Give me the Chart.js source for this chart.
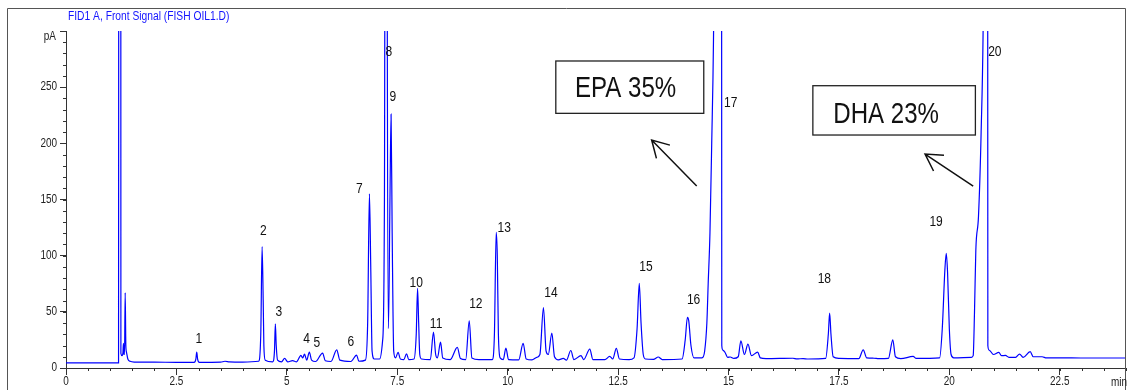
<!DOCTYPE html>
<html>
<head>
<meta charset="utf-8">
<script src="https://cdn.jsdelivr.net/npm/chart.js@4/dist/chart.umd.min.js"></script>
<style>
html,body{margin:0;padding:0;background:#fff;overflow:hidden}
canvas{display:block}
</style>
</head>
<body>
<canvas id="c" width="1127" height="390"></canvas>
<script>
// ---- Data (time in min, signal in pA) ----
const timeMin = [
  0, 1.0, 1.19, 1.205, 1.235, 1.243, 1.27, 1.29, 1.30, 1.31, 1.325, 1.34, 1.355, 1.37, 1.40, 1.45, 1.55,
  2.0, 2.5, 2.90, 2.94, 2.96, 2.98, 3.02, 3.5, 3.6, 3.7, 4.0, 4.36, 4.41, 4.44, 4.465, 4.48, 4.51,
  4.68, 4.72, 4.74, 4.76, 4.79, 4.88, 4.95, 5.02, 5.13, 5.22, 5.32, 5.36, 5.40, 5.45, 5.51, 5.56,
  5.65, 5.81, 5.87, 6.00, 6.13, 6.20, 6.45, 6.58, 6.63, 6.78, 6.83, 6.87, 6.90, 6.93, 6.98,
  7.10, 7.17, 7.21, 7.25, 7.275, 7.30, 7.335, 7.36, 7.385, 7.42, 7.46, 7.52, 7.57, 7.65, 7.71, 7.76,
  7.88, 7.93, 7.96, 7.985, 8.01, 8.05, 8.25, 8.32, 8.37, 8.41, 8.48, 8.53, 8.70, 8.86, 8.93, 9.05,
  9.13, 9.19, 9.35, 9.65, 9.70, 9.74, 9.765, 9.79, 9.83, 9.90, 9.96, 10.02, 10.25, 10.35, 10.42,
  10.55, 10.66, 10.73, 10.81, 10.87, 10.92, 11.00, 11.06, 11.15, 11.26, 11.33, 11.43, 11.50, 11.66,
  11.72, 11.86, 11.93, 12.20, 12.31, 12.38, 12.46, 12.53, 12.75, 12.86, 12.93, 12.98, 13.02, 13.07,
  13.12, 13.30, 13.41, 13.50, 13.95, 14.02, 14.07, 14.10, 14.15, 14.22, 14.40, 14.46, 14.51, 14.54,
  14.58, 14.62, 14.66, 14.74, 14.84, 14.848, 14.87, 14.92, 14.98, 15.04, 15.12, 15.22, 15.28, 15.36,
  15.44, 15.52, 15.66, 15.72, 15.85, 16.46, 16.55, 16.69, 16.80, 17.20, 17.26, 17.29, 17.32, 17.37,
  17.50, 17.95, 18.05, 18.13, 18.29, 18.40, 18.62, 18.72, 18.78, 18.90, 19.18, 19.25, 19.78, 19.84,
  19.90, 19.93, 19.96, 20.00, 20.04, 20.10, 20.50, 20.54, 20.57, 20.60, 20.66, 20.72, 20.77, 20.83, 20.865,
  20.872, 20.90, 21.00, 21.12, 21.18, 21.27, 21.35, 21.50, 21.59, 21.67, 21.83, 21.90, 22.10, 22.20,
  22.50, 23.00, 24.0
];
const signalPA = [
  4.5, 4.5, 4.6, 1500, 1500, 13, 11, 14, 22, 12, 12, 67, 20, 14, 8, 6, 5.3,
  5.2, 5.0, 5.0, 8, 14.2, 8, 5.0, 5.2, 6.0, 5.5, 5.3, 6, 30, 108, 60, 20, 7,
  5.5, 15, 39.3, 20, 7, 5.5, 8.5, 5.5, 6.5, 5.5, 11.2, 9, 12.4, 7, 14.2, 7,
  5.8, 13.3, 6.5, 5.8, 16.2, 7, 5.8, 11.5, 6, 7, 40, 155, 90, 15, 8,
  8, 25, 150, 1200, 300, 35, 150, 226, 120, 15, 9, 13.9, 8, 7.5, 12.7, 7.5,
  8, 30, 71, 40, 12, 8, 7.5, 32, 12, 9, 23, 9, 7.5, 18.3, 8.5, 7.5,
  42, 9, 7.5, 7.5, 30, 120.7, 100, 30, 9, 7.5, 17.7, 7.5, 7.2, 22, 8,
  7.2, 9.5, 12, 53.8, 15, 12, 31, 10, 7.3, 8.5, 7, 15.6, 7.5, 11,
  7.5, 16.8, 7.5, 7.4, 10.3, 8, 17.4, 8, 7.5, 9, 35, 75.4, 40, 12,
  8, 7.6, 9.8, 7.5, 8, 25, 45, 42, 20, 9, 9, 15, 40, 75,
  120, 200, 292, 700, 700, 20, 16, 14, 9.5, 9.8, 8.5, 10, 24.2, 12,
  21.3, 11, 14.2, 9, 8.3, 8.7, 8.1, 8.4, 8, 8.5, 30, 48.8, 30, 10,
  8.5, 8.3, 16.2, 9, 8.7, 8.3, 8.5, 25, 10, 8.3, 10.3, 8.5, 9, 35,
  88, 102, 85, 35, 12, 9, 9.5, 11, 50, 105, 135, 210, 320, 700, 700,
  20, 16, 12, 13.9, 11, 11.2, 9.5, 9.5, 12.4, 9.5, 14.5, 10, 10, 9,
  9, 8.9, 8.9
];

// ---- Peak numbers and where their labels sit (time, pA) ----
const peakNames  = ['1','2','3','4','5','6','7','8','9','10','11','12','13','14','15','16','17','18','19','20'];
const peakLabelT = [3.01,4.47,4.82,5.45,5.68,6.45,6.64,7.31,7.40,7.93,8.38,9.28,9.92,10.98,13.13,14.21,15.05,17.17,19.70,21.03];
const peakLabelV = [25.5,122,50.1,25.5,22.5,23.4,159.4,281,241.5,75.9,39.2,57,124.4,67,90.2,60.5,236.2,79.2,130,281];

// ---- Axis ticks ----
const xRange = [0, 24], xMajorStep = 2.5, xMinorStep = 0.5;
const yRange = [0, 300], yMajorStep = 50, yMinorStep = 10;

// ---- Call-out boxes (in data units) ----
const callouts = [
  {text:'EPA 35%', box:[11.09,14.44,273.3,226.7], textAt:[12.67,249], arrowFrom:[14.28,162], arrowTo:[13.26,203]},
  {text:'DHA 23%', box:[16.91,20.59,251.3,207.4], textAt:[18.57,226.4], arrowFrom:[20.54,162], arrowTo:[19.45,190.5]}
];

const FONT = '"Liberation Sans",Arial,sans-serif';
const NARROW_SCALE = 0.83;

function narrowText(ctx, text, x, y, sx) {
  ctx.save();
  ctx.translate(x, y);
  ctx.scale(sx || NARROW_SCALE, 1);
  ctx.fillText(text, 0, 0);
  ctx.restore();
}

const fmt = v => String(Math.round(v * 10) / 10);

const overlay = {
  id: 'overlay',
  beforeDraw(chart) {
    const ctx = chart.ctx;
    ctx.save();
    ctx.fillStyle = '#fff';
    ctx.fillRect(0, 0, chart.width, chart.height);
    ctx.restore();
  },
  afterDraw(chart) {
    const {ctx, chartArea: ca} = chart;
    const x = chart.scales.x, y = chart.scales.y;
    ctx.save();
    // frame
    ctx.strokeStyle = '#555';
    ctx.lineWidth = 1;
    ctx.beginPath();
    ctx.moveTo(7.5, 390); ctx.lineTo(7.5, 8.5); ctx.lineTo(1125.5, 8.5); ctx.lineTo(1125.5, 390);
    ctx.stroke();
    // minor ticks
    ctx.strokeStyle = '#333';
    ctx.beginPath();
    for (let v = xRange[0]; v <= xRange[1] + 1e-9; v += xMinorStep) {
      const px = Math.round(x.getPixelForValue(v)) + 0.5;
      ctx.moveTo(px, ca.bottom); ctx.lineTo(px, ca.bottom + 3);
    }
    for (let v = yRange[0]; v <= yRange[1] + 1e-9; v += yMinorStep) {
      const py = Math.round(y.getPixelForValue(v)) + 0.5;
      ctx.moveTo(ca.left, py); ctx.lineTo(ca.left - 3, py);
    }
    ctx.stroke();
    // tick labels (condensed)
    ctx.fillStyle = '#222';
    ctx.font = '12px ' + FONT;
    ctx.textBaseline = 'middle';
    ctx.textAlign = 'center';
    x.ticks.forEach(t => narrowText(ctx, fmt(t.value), x.getPixelForValue(t.value), ca.bottom + 14));
    ctx.textAlign = 'right';
    y.ticks.forEach(t => {
      if (t.value === yRange[1]) return;
      narrowText(ctx, fmt(t.value), ca.left - 9, y.getPixelForValue(t.value));
    });
    narrowText(ctx, 'pA', ca.left - 10, 37);
    ctx.textAlign = 'left';
    narrowText(ctx, 'min', 1111, ca.bottom + 15);
    // title
    ctx.fillStyle = '#1414ff';
    ctx.font = '12px ' + FONT;
    ctx.textAlign = 'left';
    narrowText(ctx, 'FID1 A, Front Signal (FISH OIL1.D)', 68, 16.5, 0.855);
    // peak labels
    ctx.fillStyle = '#111';
    ctx.font = '14.5px ' + FONT;
    ctx.textAlign = 'center'; ctx.textBaseline = 'middle';
    peakNames.forEach((n, i) => {
      narrowText(ctx, n, x.getPixelForValue(peakLabelT[i]), y.getPixelForValue(peakLabelV[i]));
    });
    // call-outs
    callouts.forEach(c => {
      const x0 = x.getPixelForValue(c.box[0]), x1 = x.getPixelForValue(c.box[1]);
      const y0 = y.getPixelForValue(c.box[2]), y1 = y.getPixelForValue(c.box[3]);
      ctx.fillStyle = '#fff';
      ctx.fillRect(x0, y0, x1 - x0, y1 - y0);
      ctx.strokeStyle = '#222'; ctx.lineWidth = 1.3;
      ctx.strokeRect(x0, y0, x1 - x0, y1 - y0);
      ctx.fillStyle = '#111';
      ctx.font = '29px ' + FONT;
      ctx.textAlign = 'center'; ctx.textBaseline = 'middle';
      narrowText(ctx, c.text, x.getPixelForValue(c.textAt[0]), y.getPixelForValue(c.textAt[1]) + 1);
      const ax = x.getPixelForValue(c.arrowFrom[0]), ay = y.getPixelForValue(c.arrowFrom[1]);
      const tx = x.getPixelForValue(c.arrowTo[0]), ty = y.getPixelForValue(c.arrowTo[1]);
      const ang = Math.atan2(ay - ty, ax - tx);
      const L = 19, spread = 0.52;
      ctx.strokeStyle = '#111'; ctx.lineWidth = 1.5;
      ctx.beginPath();
      ctx.moveTo(ax, ay); ctx.lineTo(tx, ty);
      ctx.moveTo(tx + L * Math.cos(ang - spread), ty + L * Math.sin(ang - spread));
      ctx.lineTo(tx, ty);
      ctx.lineTo(tx + L * Math.cos(ang + spread), ty + L * Math.sin(ang + spread));
      ctx.stroke();
    });
    ctx.restore();
  }
};

new Chart(document.getElementById('c'), {
  type: 'line',
  data: {
    datasets: [{
      data: timeMin.map((t, i) => ({x: t, y: signalPA[i]})),
      borderColor: '#0000ff',
      borderWidth: 1.2,
      pointRadius: 0,
      cubicInterpolationMode: 'monotone',
      fill: false
    }]
  },
  options: {
    responsive: false,
    animation: false,
    devicePixelRatio: 1,
    layout: {padding: {top: 31, right: 1, left: 0, bottom: 0}},
    plugins: {legend: {display: false}, tooltip: {enabled: false}, title: {display: false}},
    scales: {
      x: {
        type: 'linear', min: xRange[0], max: xRange[1],
        afterFit(s) { s.height = 22; },
        border: {color: '#333', width: 1},
        grid: {drawOnChartArea: false, tickLength: 7, color: '#333'},
        ticks: {display: false, stepSize: xMajorStep, includeBounds: false, autoSkip: false, maxRotation: 0}
      },
      y: {
        type: 'linear', min: yRange[0], max: yRange[1],
        afterFit(s) { s.width = 66; },
        border: {color: '#333', width: 1},
        grid: {drawOnChartArea: false, tickLength: 6, color: '#333'},
        ticks: {display: false, stepSize: yMajorStep}
      }
    }
  },
  plugins: [overlay]
});
</script>
</body>
</html>
